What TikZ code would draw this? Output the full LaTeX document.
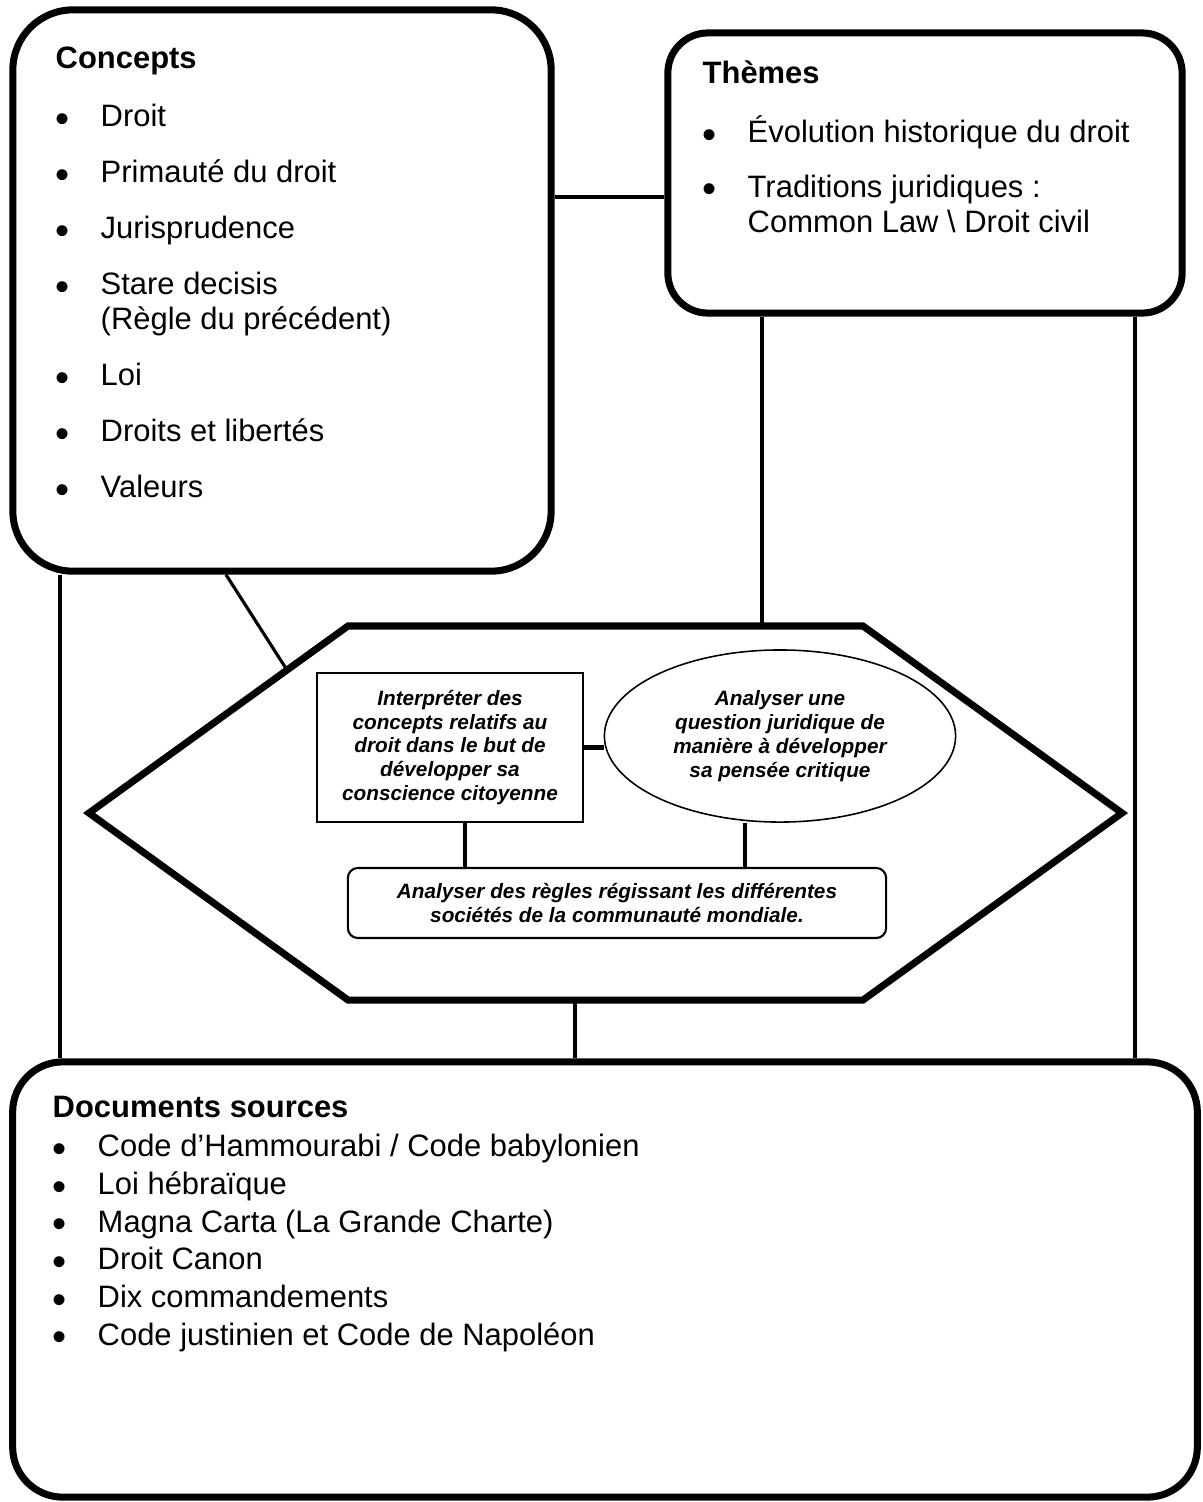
\documentclass[tikz,border=0pt]{standalone}
\usepackage{graphicx}
\usepackage{fontspec}
\setmainfont{Liberation Sans}
\usetikzlibrary{shapes.geometric}

\begin{document}
\begin{tikzpicture}[x=0.01cm,y=-0.01cm,
    bigbox/.style={draw,line width=2pt,rounded corners=#1,inner sep=0},
    listtext/.style={anchor=north west,align=left,inner sep=0},
    goalbox/.style={draw,line width=0.6pt,inner sep=0,align=center,font=\goalfontsize},
    link/.style={line width=0.9pt}]
    \pgfmathsetmacro{\hexrule}{2}
    \providecommand{\textfontsize}{\fontsize{8.8pt}{10pt}\selectfont}
    \providecommand{\docsfontsize}{\fontsize{8.8pt}{10.73pt}\selectfont}
    \providecommand{\goalfontsize}{\fontsize{5.9pt}{6.8pt}\selectfont\bfseries\itshape}
    \providecommand{\puce}{\makebox[0.45cm][l]{\raisebox{-1.6pt}{\scalebox{1.3}{•}}}}
    \fill[white] (0,0) rectangle (1202,1502);
    \useasboundingbox (0,0) rectangle (1202,1502);
    % the three big boxes
    \node[bigbox=0.6cm,minimum width=5.38cm,minimum height=5.61cm] (concepts) at (282,290.5) {};
    \node[bigbox=0.4cm,minimum width=5.14cm,minimum height=2.8cm] (themes) at (925,173) {};
    \node[bigbox=0.5cm,minimum width=11.84cm,minimum height=4.35cm] (docs) at (605,1279.5) {};
    \node[listtext,font=\textfontsize] (conceptslist) at (55,46.5) {\textbf{Concepts}\\[6.5pt]
        \puce Droit\\[5.9pt]
        \puce Primauté du droit\\[5.9pt]
        \puce Jurisprudence\\[5.9pt]
        \puce Stare decisis\\
        \hspace*{0.45cm}(Règle du précédent)\\[5.9pt]
        \puce Loi\\[5.9pt]
        \puce Droits et libertés\\[5.9pt]
        \puce Valeurs};
    \node[listtext,font=\textfontsize] (themeslist) at (702,60) {\textbf{Thèmes}\\[6.8pt]
        \puce Évolution historique du droit\\[5.6pt]
        \puce Traditions juridiques :\\
        \hspace*{0.45cm}Common Law \textbackslash{} Droit civil};
    \node[listtext,font=\docsfontsize] (docslist) at (52,1095.5) {\textbf{Documents sources}\\[0.4pt]
        \puce Code d’Hammourabi / Code babylonien\\
        \puce Loi hébraïque\\
        \puce Magna Carta (La Grande Charte)\\
        \puce Droit Canon\\
        \puce Dix commandements\\
        \puce Code justinien et Code de Napoléon};
    % hexagon
    \draw[line width=\hexrule pt] (89,813) -- (348,626) -- (863,626) -- (1122,813) -- (863,1000) -- (348,1000) -- cycle;
    \coordinate (hexconcepts) at (287,670);
    \coordinate (hexthemes) at (762,626);
    \coordinate (hexdocs) at (575,1000);
    \node[goalbox,minimum width=2.66cm,minimum height=1.49cm] (interpreter) at (450,747.5)
        {Interpréter des\\concepts relatifs au\\droit dans le but de\\développer sa\\conscience citoyenne};
    \node[goalbox,ellipse,line width=0.45pt,minimum width=3.51cm,minimum height=1.72cm] (analyser) at (780,736)
        {Analyser une\\question juridique de\\manière à développer\\sa pensée critique};
    \node[goalbox,rounded corners=0.1cm,minimum width=5.38cm,minimum height=0.7cm] (regles) at (617,903)
        {Analyser des règles régissant les différentes\\sociétés de la communauté mondiale.};
    % connectors
    \draw[link] (themes.west) ++(0,24) coordinate (themesleft) -- (themesleft -| concepts.east);
    \draw[link] (concepts.south) ++(-56,0) coordinate (conceptsfoot) -- (hexconcepts);
    \draw[link] (concepts.south) ++(-222,0) coordinate (conceptsleft) -- (conceptsleft |- docs.north);
    \draw[link] (hexthemes) -- (hexthemes |- themes.south);
    \draw[link] (themes.south) ++(210,0) coordinate (themesright) -- (themesright |- docs.north);
    \draw[link] (hexdocs) -- (hexdocs |- docs.north);
    \draw[line width=1.4pt] (interpreter.east) -- (interpreter.east -| analyser.west);
    \draw[link] (interpreter.south) ++(15,0) coordinate (interpreterfoot) -- (interpreterfoot |- regles.north);
    \draw[link] (analyser.south) ++(-35,0) coordinate (analyserfoot) -- (analyserfoot |- regles.north);
\end{tikzpicture}
\end{document}
